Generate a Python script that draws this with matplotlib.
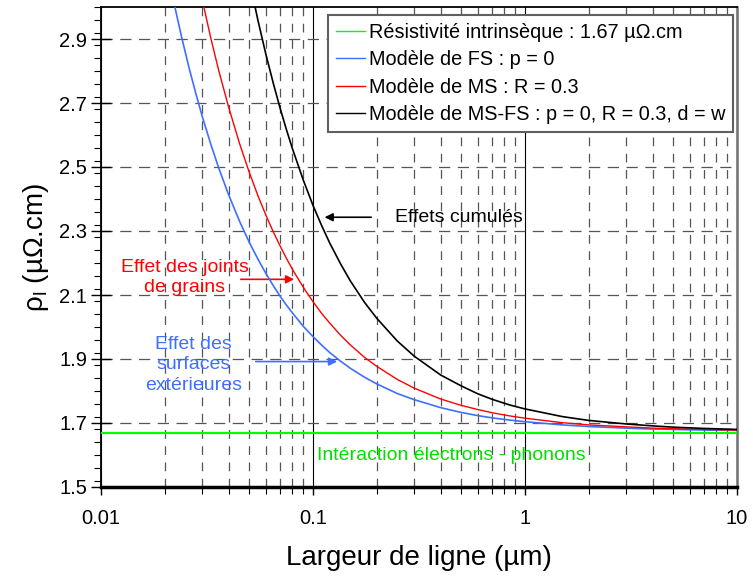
import numpy as np
import matplotlib
matplotlib.use("Agg")
import matplotlib.pyplot as plt
from matplotlib.ticker import LogLocator, FixedLocator, MultipleLocator, NullFormatter

plt.rcParams['font.family'] = ['Liberation Sans', 'DejaVu Sans']
plt.rcParams['mathtext.fontset'] = 'custom'
plt.rcParams['mathtext.rm'] = 'Liberation Sans'

# line width (um) and resistivity (uOhm.cm)
width = [0.02, 0.022, 0.024, 0.026, 0.028, 0.03, 0.033, 0.036, 0.04, 0.045,
         0.05, 0.055, 0.06, 0.065, 0.07, 0.075, 0.08, 0.09, 0.1, 0.11,
         0.12, 0.135, 0.15, 0.175, 0.2, 0.25, 0.3, 0.4, 0.5, 0.6,
         0.7, 0.85, 1, 1.5, 2, 3, 4, 5, 7, 10]
rho_fs = [3.152, 3.018, 2.906, 2.811, 2.730, 2.659, 2.570, 2.495, 2.413, 2.331,
          2.265, 2.212, 2.167, 2.129, 2.096, 2.068, 2.044, 2.002, 1.970, 1.943,
          1.920, 1.893, 1.871, 1.843, 1.822, 1.792, 1.773, 1.748, 1.733, 1.723,
          1.716, 1.709, 1.704, 1.694, 1.689, 1.684, 1.681, 1.680, 1.678, 1.677]
rho_ms = [3.699, 3.515, 3.362, 3.232, 3.120, 3.024, 2.901, 2.799, 2.687, 2.574,
          2.484, 2.410, 2.349, 2.297, 2.253, 2.214, 2.180, 2.124, 2.079, 2.042,
          2.012, 1.974, 1.944, 1.905, 1.877, 1.836, 1.809, 1.775, 1.755, 1.742,
          1.732, 1.722, 1.715, 1.701, 1.694, 1.688, 1.684, 1.682, 1.680, 1.678]
rho_msfs = [5.208, 4.887, 4.619, 4.392, 4.198, 4.030, 3.815, 3.637, 3.441, 3.244,
            3.087, 2.958, 2.851, 2.761, 2.683, 2.616, 2.557, 2.459, 2.380, 2.316,
            2.262, 2.197, 2.144, 2.077, 2.027, 1.956, 1.909, 1.850, 1.816, 1.791,
            1.774, 1.756, 1.744, 1.720, 1.708, 1.697, 1.691, 1.687, 1.683, 1.680]
rho_0 = 1.67

labels = ["Résistivité intrinsèque : 1.67 µΩ.cm",
          "Modèle de FS : p = 0",
          "Modèle de MS : R = 0.3",
          "Modèle de MS-FS : p = 0, R = 0.3, d = w"]

blue = '#3F6FFF'

fig = plt.figure(figsize=(7.53, 5.79), dpi=100)
ax = fig.add_axes([101/753, 1 - 487/579, 636/753, 480/579])

ax.axhline(rho_0, color='#00FF00', lw=1.6, label=labels[0], zorder=3)
ax.plot(width, rho_fs, color=blue, lw=1.2, label=labels[1], zorder=4)
ax.plot(width, rho_ms, color='red', lw=1.0, label=labels[2], zorder=4)
ax.plot(width, rho_msfs, color='black', lw=1.2, label=labels[3], zorder=4)

ax.set_xscale('log')
ax.set_xlim(0.01, 10)
ax.set_ylim(1.5, 3.0)
ax.xaxis.set_major_locator(FixedLocator([0.01, 0.1, 1, 10]))
ax.set_xticklabels(['0.01', '0.1', '1', '10'])
ax.xaxis.set_minor_locator(LogLocator(base=10, subs=np.arange(2, 10)))
ax.xaxis.set_minor_formatter(NullFormatter())
ax.yaxis.set_major_locator(FixedLocator(np.arange(1.5, 2.95, 0.2)))
ax.set_yticklabels(['1.5', '1.7', '1.9', '2.1', '2.3', '2.5', '2.7', '2.9'])
ax.yaxis.set_minor_locator(MultipleLocator(0.04))

# grid
ax.grid(which='minor', axis='x', color='#555555', lw=0.9, ls=(0, (7, 6)))
ax.grid(which='major', axis='x', color='black', lw=0.8, ls='-')
ax.grid(which='major', axis='y', color='#555555', lw=0.9, ls=(0, (9, 6)))

ax.tick_params(which='both', direction='out', labelsize=14.5, color='black')
ax.tick_params(which='major', length=6, width=1)
ax.tick_params(which='minor', length=5, width=0.8)
ax.tick_params(axis='y', which='major', direction='inout', length=14)
ax.tick_params(axis='x', pad=10)
ax.tick_params(axis='y', pad=3)

ax.spines['bottom'].set_linewidth(2.5)
ax.spines['left'].set_linewidth(1.3)
ax.spines['top'].set_linewidth(1.3)
ax.spines['right'].set_linewidth(1.8)
ax.spines['right'].set_color('#707070')

ax.set_xlabel('Largeur de ligne (µm)', fontsize=20, labelpad=12)
ax.set_ylabel(r'ρ$_\mathregular{l}$ (µΩ.cm)', fontsize=20, labelpad=6)

leg = ax.legend(loc='upper right', bbox_to_anchor=(0.9937, 0.983), borderaxespad=0,
                fontsize=14.3, handlelength=1.45, handletextpad=0.2, labelspacing=0.42,
                borderpad=0.4, fancybox=False, framealpha=1, edgecolor='#606060')
leg.get_frame().set_linewidth(1.5)
for line in leg.get_lines():
    line.set_linewidth(1.0)

# annotations
ax.annotate('', xy=(0.110, 2.343), xytext=(0.194, 2.343),
            arrowprops=dict(arrowstyle='-|>', color='black', lw=1.2, mutation_scale=12))
ax.text(0.244, 2.343, 'Effets cumulés', fontsize=14, va='center', ha='left')

ax.annotate('', xy=(0.084, 2.149), xytext=(0.0443, 2.149),
            arrowprops=dict(arrowstyle='-|>', color='red', lw=1.2, mutation_scale=12))
ax.text(0.0249, 2.155, 'Effet des joints\nde grains', fontsize=14, color='red',
        ha='center', va='center', multialignment='center', linespacing=1.25)

ax.annotate('', xy=(0.134, 1.892), xytext=(0.0521, 1.892),
            arrowprops=dict(arrowstyle='-|>', color=blue, lw=1.2, mutation_scale=12))
ax.text(0.0272, 1.882, 'Effet des\nsurfaces\nextérieures', fontsize=14, color=blue,
        ha='center', va='center', multialignment='center', linespacing=1.25)

ax.text(0.448, 1.600, 'Intéraction électrons - phonons', fontsize=14, color='#00E000',
        ha='center', va='center')

fig.savefig('out.png', dpi=100)
